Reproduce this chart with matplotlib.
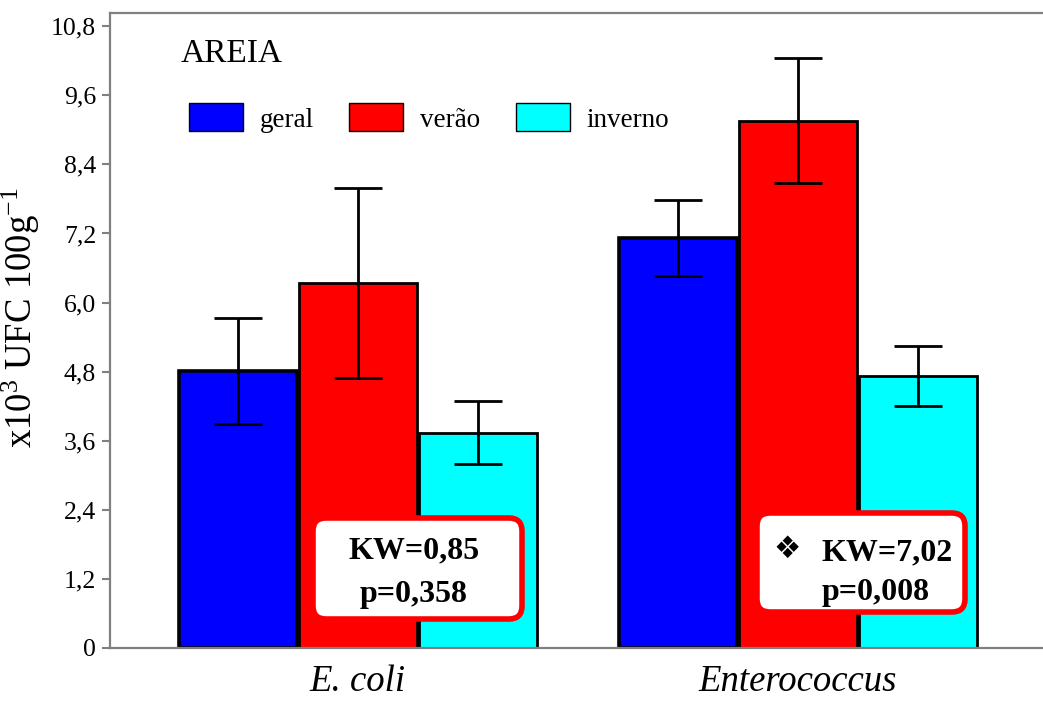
import matplotlib
matplotlib.use("Agg")
import matplotlib.pyplot as plt
import numpy as np
from matplotlib.patches import Patch, FancyBboxPatch

# ---- data ----
groups = ["E. coli", "Enterococcus"]
series = ["geral", "verão", "inverno"]
colors = ["#0000FF", "#FF0000", "#00FFFF"]
means = {
    "geral":   [4.81, 7.13],
    "verão":   [6.34, 9.16],
    "inverno": [3.74, 4.72],
}
errors = {
    "geral":   [0.92, 0.66],
    "verão":   [1.65, 1.09],
    "inverno": [0.55, 0.52],
}
yticks = [0, 1.2, 2.4, 3.6, 4.8, 6.0, 7.2, 8.4, 9.6, 10.8]
yticklabels = ["0", "1,2", "2,4", "3,6", "4,8", "6,0", "7,2", "8,4", "9,6", "10,8"]
title_text = "AREIA"
kw_lines = [["KW=0,85", "p=0,358"], ["KW=7,02", "p=0,008"]]

plt.rcParams["font.family"] = ["Liberation Serif", "DejaVu Serif"]
plt.rcParams["mathtext.fontset"] = "custom"
plt.rcParams["mathtext.rm"] = "Liberation Serif"
plt.rcParams["mathtext.it"] = "Liberation Serif:italic"

W, H = 1043, 702
fig = plt.figure(figsize=(W / 100, H / 100), dpi=100)
ax = fig.add_axes([110 / W, 1 - 648 / H, 1 - 110 / W, (648 - 13) / H])

grey = "#808080"
x = np.arange(len(groups))
width = 0.268
offset = 0.272
lws = [2.6, 2.0, 2.0]
for i, s in enumerate(series):
    ax.bar(x + (i - 1) * offset, means[s], width, color=colors[i],
           edgecolor="black", linewidth=lws[i], zorder=2)
    ax.errorbar(x + (i - 1) * offset, means[s], yerr=errors[s], fmt="none",
                ecolor="black", elinewidth=2.0, capsize=17, capthick=2.0, zorder=3)

ax.set_xlim(-0.5636, 1.5568)
ax.set_ylim(0, 11.03)
ax.set_yticks(yticks)
ax.set_yticklabels(yticklabels, fontsize=18.5)
ax.set_xticks(x)
ax.set_xticklabels(groups, fontsize=26.5, style="italic")
ax.tick_params(axis="x", length=0, pad=12)
ax.tick_params(axis="y", length=6, width=1.5, color=grey, pad=4)
for side in ["left", "top", "bottom"]:
    ax.spines[side].set_color(grey)
    ax.spines[side].set_linewidth(1.6)
ax.spines["right"].set_visible(False)

ax.set_ylabel(r"x10$^{\mathrm{3}}$ UFC 100g$^{\mathrm{-1}}$", fontsize=26.5)
ax.yaxis.set_label_coords(-(110 - 42) / 933, (648 - 318) / 635)

# title
ax.text((181 - 110) / 933, (648 - 62) / 635, title_text, transform=ax.transAxes,
        fontsize=24, ha="left", va="baseline")

# legend
handles = [Patch(facecolor=c, edgecolor="black", linewidth=1.0) for c in colors]
ax.legend(handles, series, loc="center left",
          bbox_to_anchor=((189 - 110) / 933, (648 - 118) / 635),
          ncol=3, frameon=False, fontsize=19.5, handlelength=2.0, handleheight=1.2,
          handletextpad=0.6, columnspacing=1.32, borderpad=0, borderaxespad=0)

# KW boxes (pixel -> inch coordinates)
def px_box(x0, y0, x1, y1):
    return (x0 / 100, (H - y1) / 100, (x1 - x0) / 100, (y1 - y0) / 100)

for (x0, y0, x1, y1) in [(313, 518, 522, 619), (757, 513, 965, 612)]:
    bx, by, bw, bh = px_box(x0, y0, x1, y1)
    fig.patches.append(FancyBboxPatch((bx, by), bw, bh,
                                      boxstyle="round,pad=0,rounding_size=0.13",
                                      transform=fig.dpi_scale_trans,
                                      facecolor="white", edgecolor="#FF0000",
                                      linewidth=4, zorder=5))

def ftext(px, py, s, **kw):
    fig.text(px / W, 1 - py / H, s, zorder=6, **kw)

ftext(414, 558, kw_lines[0][0], fontsize=23, fontweight="bold", ha="center", va="baseline")
ftext(414, 602, kw_lines[0][1], fontsize=23, fontweight="bold", ha="center", va="baseline")
ftext(822, 560, kw_lines[1][0], fontsize=23, fontweight="bold", ha="left", va="baseline")
ftext(822, 600, kw_lines[1][1], fontsize=23, fontweight="bold", ha="left", va="baseline")
ftext(787, 549, "\u2756", fontsize=22, ha="center", va="center", family=["DejaVu Sans"])

fig.savefig("out.png", dpi=100)
